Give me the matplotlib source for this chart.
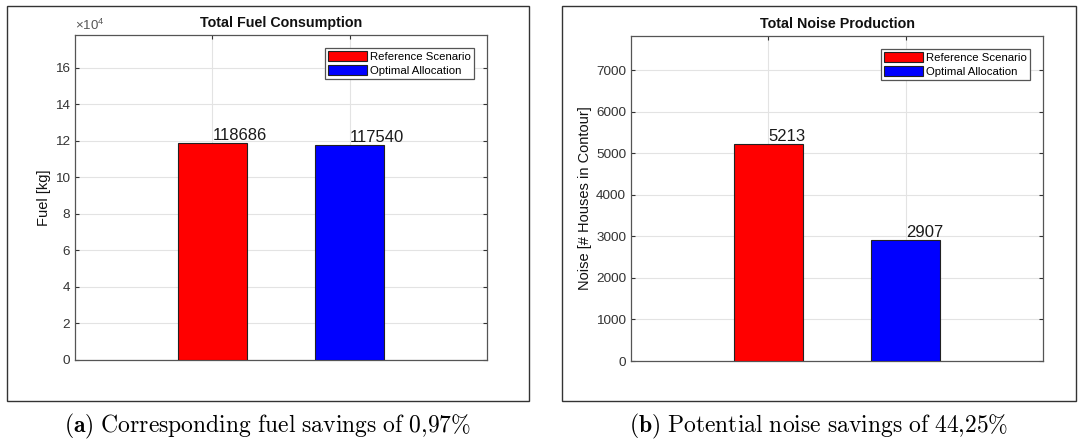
import numpy as np
import matplotlib.pyplot as plt
from matplotlib.patches import Rectangle
from matplotlib.ticker import FuncFormatter, MultipleLocator

# totals per scenario
SCENARIOS = ['Reference Scenario', 'Optimal Allocation']
COLORS = ['#ff0000', '#0000ff']
FUEL = [118686, 117540]
NOISE = [5213, 2907]
CAPTIONS = [r'$\mathbf{(a)}\ \mathrm{Corresponding\ fuel\ savings\ of\ 0{,}97\%}$',
            r'$\mathbf{(b)}\ \mathrm{Potential\ noise\ savings\ of\ 44{,}25\%}$']

plt.rcParams['font.family'] = ['Liberation Sans', 'DejaVu Sans']
plt.rcParams['mathtext.fontset'] = 'cm'

W, H = 1082, 447
fig = plt.figure(figsize=(W / 100, H / 100), dpi=100)


def px_rect(x0, y0, x1, y1):
    # pixel box (top-left origin) -> figure fraction rect
    return [x0 / W, 1 - y1 / H, (x1 - x0) / W, (y1 - y0) / H]


def bar_panel(rect, values, title, ylabel, step, sci=False):
    ax = fig.add_axes(rect)
    x = np.arange(1, len(values) + 1)
    bars = ax.bar(x, values, width=0.5, color=COLORS, edgecolor='#222222',
                  linewidth=0.8, label=SCENARIOS, zorder=3)
    for xi, v in zip(x, values):
        ax.text(xi, v, str(v), ha='left', va='bottom', fontsize=12,
                color='#1a1a1a', zorder=4)
    ax.set_xlim(0, 3)
    ax.set_ylim(0, 1.5 * max(values))
    ax.set_xticks(x)
    ax.set_xticklabels([])
    ax.yaxis.set_major_locator(MultipleLocator(step))
    if sci:
        ax.yaxis.set_major_formatter(FuncFormatter(lambda v, p: '%d' % round(v / 1e4)))
        ax.text(0, 1.005, r'$\mathregular{\times10^4}$', transform=ax.transAxes,
                fontsize=9.5, color='#555555', ha='left', va='bottom')
    ax.grid(True, color='#e3e3e3', linewidth=0.8, zorder=0)
    ax.tick_params(direction='in', top=True, right=True, length=3,
                   labelsize=9.7, colors='#333333', width=0.8)
    for s in ax.spines.values():
        s.set_color('#555555')
        s.set_linewidth(0.9)
    ax.set_title(title, fontsize=10.3, fontweight='bold', pad=6, color='#111111')
    ax.set_ylabel(ylabel, fontsize=10.5, color='#111111', labelpad=3)
    leg = ax.legend(bars, SCENARIOS, loc='upper right', fontsize=8.2,
                    fancybox=False, edgecolor='#555555', framealpha=1,
                    handlelength=3.4, handleheight=1.0, handletextpad=0.3,
                    borderpad=0.3, labelspacing=0.25, borderaxespad=1.1)
    leg.get_frame().set_linewidth(0.9)
    return ax


# panel frames
for x0, x1 in [(7, 529), (562, 1076)]:
    fig.patches.append(Rectangle((x0 / W, 1 - 401 / H), (x1 - x0) / W, 395 / H,
                                 transform=fig.transFigure, fill=False,
                                 edgecolor='#333333', linewidth=1.0))

bar_panel(px_rect(75, 35, 487, 360), FUEL, 'Total Fuel Consumption', 'Fuel [kg]',
          20000, sci=True)
bar_panel(px_rect(631, 36, 1043, 361), NOISE, 'Total Noise Production',
          'Noise [# Houses in Contour]', 1000)

fig.text(268 / W, 1 - 426 / H, CAPTIONS[0], ha='center', va='center', fontsize=17)
fig.text(819 / W, 1 - 426 / H, CAPTIONS[1], ha='center', va='center', fontsize=17)

fig.savefig('out.png', dpi=100)
